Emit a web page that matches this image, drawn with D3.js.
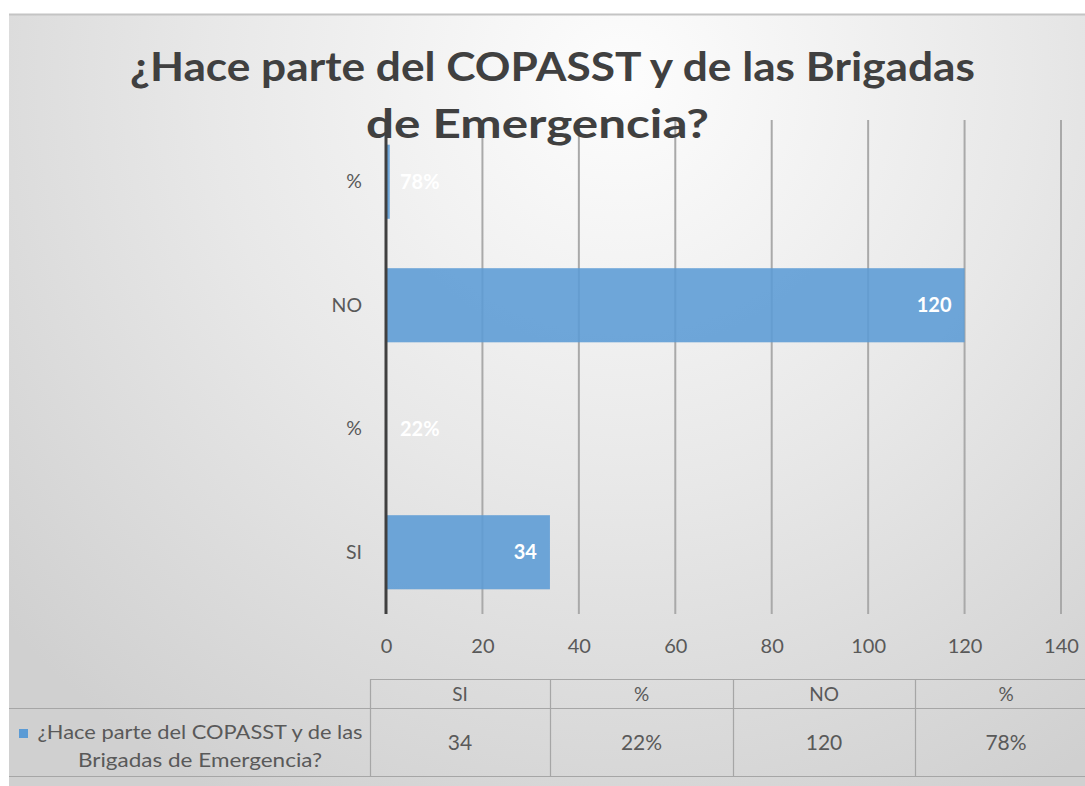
<!DOCTYPE html>
<html>
<head>
<meta charset="utf-8">
<script src="https://cdn.jsdelivr.net/npm/d3@7"></script>
<style>
  body { margin: 0; background: #ffffff; }
  text { font-family: Lato, "Open Sans", sans-serif; }
</style>
</head>
<body>
<script>
// chart data
var categories = ["SI", "%", "NO", "%"];
var values = [34, 0.22, 120, 0.78];
var valueLabels = ["34", "22%", "120", "78%"];
var xTicks = [0, 20, 40, 60, 80, 100, 120, 140];
var titleLines = ["¿Hace parte del COPASST y de las Brigadas", "de Emergencia?"];
var nameLines = ["¿Hace parte del COPASST y de las", "Brigadas de Emergencia?"];

var width = 1085, height = 786;

var svg = d3.select("body").append("svg")
    .attr("width", width)
    .attr("height", height);

// background gradient like the spreadsheet chart
var defs = svg.append("defs");
var grad = defs.append("radialGradient")
    .attr("id", "bg")
    .attr("gradientUnits", "userSpaceOnUse")
    .attr("cx", 620).attr("cy", 80).attr("r", 820);
grad.append("stop").attr("offset", "0%").attr("stop-color", "#fdfdfd");
grad.append("stop").attr("offset", "50%").attr("stop-color", "#e8e8e8");
grad.append("stop").attr("offset", "100%").attr("stop-color", "#d0d0d0");

svg.append("rect")
    .attr("x", 9).attr("y", 14)
    .attr("width", width).attr("height", height - 14)
    .attr("fill", "url(#bg)");
svg.append("line")
    .attr("x1", 9).attr("x2", width)
    .attr("y1", 14.5).attr("y2", 14.5)
    .attr("stroke", "#c4c4c4").attr("stroke-width", 2);

// scales
var x = d3.scaleLinear().domain([0, 140]).range([386, 1061]);
var idx = d3.range(categories.length);
var y = d3.scaleBand()
    .domain(idx.slice().reverse())
    .range([120, 614])
    .paddingInner(0.4)
    .paddingOuter(0.2);

// gridlines
svg.append("g")
    .selectAll("line")
    .data(xTicks.slice(1))
    .enter()
    .append("line")
    .attr("x1", function(d){ return x(d); })
    .attr("x2", function(d){ return x(d); })
    .attr("y1", 120).attr("y2", 614)
    .attr("stroke", "#a9a9a9")
    .attr("stroke-width", 2);

// bars
svg.append("g")
    .selectAll("rect")
    .data(idx)
    .enter()
    .append("rect")
    .attr("x", x(0))
    .attr("y", function(i){ return y(i); })
    .attr("width", function(i){ return x(values[i]) - x(0); })
    .attr("height", y.bandwidth())
    .attr("fill", "#5b9bd5")
    .attr("fill-opacity", 0.88);

// zero axis line
svg.append("line")
    .attr("x1", x(0)).attr("x2", x(0))
    .attr("y1", 120).attr("y2", 614)
    .attr("stroke", "#404040")
    .attr("stroke-width", 3);

// x tick labels
var xAxis = d3.axisBottom(x).tickValues(xTicks).tickSize(0).tickPadding(0);
var gx = svg.append("g")
    .attr("transform", "translate(0,653)")
    .call(xAxis);
gx.select(".domain").remove();
gx.selectAll("text")
    .attr("dy", 0)
    .attr("y", 0)
    .attr("font-size", 20)
    .attr("fill", "#595959")
    .style("font-family", "Lato, sans-serif");

// category labels
var yAxis = d3.axisLeft(y).tickSize(0).tickPadding(0)
    .tickFormat(function(i){ return categories[i]; });
var gy = svg.append("g")
    .attr("transform", "translate(362,0)")
    .call(yAxis);
gy.select(".domain").remove();
gy.selectAll("text")
    .attr("font-size", 19.5)
    .attr("fill", "#595959")
    .style("font-family", "Lato, sans-serif");

// data labels
var labels = svg.append("g")
    .selectAll("text")
    .data(idx)
    .enter()
    .append("text")
    .attr("y", function(i){ return y(i) + y.bandwidth() / 2; })
    .attr("dy", "0.36em")
    .attr("text-anchor", "end")
    .attr("font-size", 20)
    .attr("font-weight", "bold")
    .attr("fill", "#ffffff")
    .text(function(i){ return valueLabels[i]; });
labels.attr("x", function(i){
    var w = this.getComputedTextLength();
    return Math.max(x(values[i]) - 13, x(0) + 14 + w);
});

// title
svg.append("g")
    .selectAll("text")
    .data(titleLines)
    .enter()
    .append("text")
    .attr("x", function(d, i){ return i === 0 ? 130 : 366; })
    .attr("y", function(d, i){ return 81 + i * 57; })
    .attr("textLength", function(d, i){ return i === 0 ? 845 : 343; })
    .attr("lengthAdjust", "spacingAndGlyphs")
    .attr("font-size", 40)
    .attr("font-weight", "bold")
    .attr("fill", "#404040")
    .text(function(d){ return d; });

// data table
var colEdges = [370, 550, 733, 915, 1097];
var tbl = svg.append("g").attr("stroke", "#a6a6a6").attr("stroke-width", 1.2);
tbl.append("line").attr("x1", 370).attr("x2", width).attr("y1", 679.5).attr("y2", 679.5);
tbl.append("line").attr("x1", 9).attr("x2", width).attr("y1", 708.5).attr("y2", 708.5);
tbl.append("line").attr("x1", 9).attr("x2", width).attr("y1", 776.5).attr("y2", 776.5);
tbl.selectAll(".vline")
    .data(colEdges.slice(0, 4))
    .enter()
    .append("line")
    .attr("class", "vline")
    .attr("x1", function(d){ return d + 0.5; })
    .attr("x2", function(d){ return d + 0.5; })
    .attr("y1", 679).attr("y2", 777);

var cells = svg.append("g");
idx.forEach(function(i){
    var cx = (colEdges[i] + colEdges[i + 1]) / 2;
    cells.append("text")
        .attr("x", cx).attr("y", 701)
        .attr("text-anchor", "middle")
        .attr("font-size", 19)
        .attr("fill", "#595959")
        .text(categories[i]);
    cells.append("text")
        .attr("x", cx).attr("y", 750)
        .attr("text-anchor", "middle")
        .attr("font-size", 21)
        .attr("fill", "#595959")
        .text(valueLabels[i]);
});

// legend key and series name
cells.append("rect")
    .attr("x", 19).attr("y", 729)
    .attr("width", 9).attr("height", 9)
    .attr("fill", "#5b9bd5");
cells.selectAll(".sname")
    .data(nameLines)
    .enter()
    .append("text")
    .attr("class", "sname")
    .attr("x", 200)
    .attr("y", function(d, i){ return 739 + i * 28; })
    .attr("text-anchor", "middle")
    .attr("textLength", function(d, i){ return i === 0 ? 325 : 244; })
    .attr("lengthAdjust", "spacingAndGlyphs")
    .attr("font-size", 20)
    .attr("fill", "#595959")
    .text(function(d){ return d; });
</script>
</body>
</html>
